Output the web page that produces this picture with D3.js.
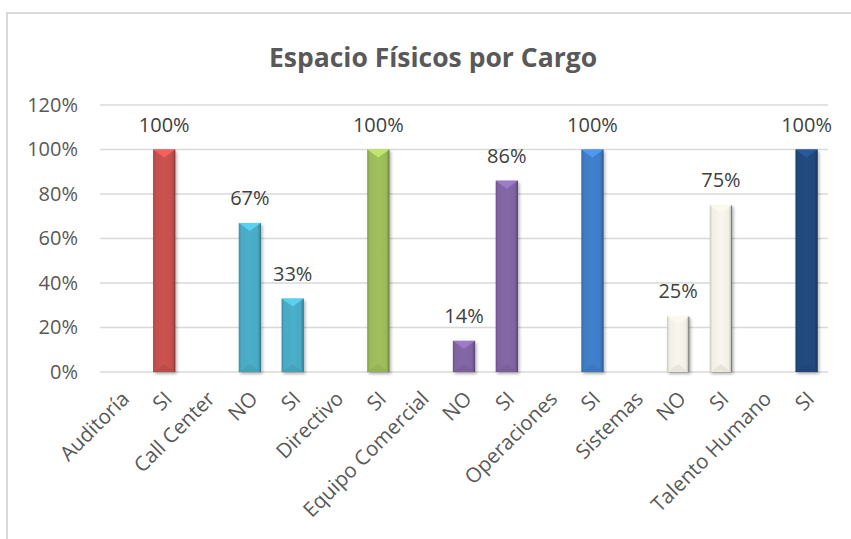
<!DOCTYPE html>
<html>
<head>
<meta charset="utf-8">
<script src="https://cdn.jsdelivr.net/npm/d3@7"></script>
<style>
  html, body { margin: 0; padding: 0; background: #fff; }
  svg { display: block; font-family: "Open Sans", "Noto Sans", sans-serif; }
</style>
</head>
<body>
<svg id="chart" width="851" height="539"></svg>
<script>
// Share of answers about physical workspace, per job group
const groups  = ["Auditoría", "Call Center", "Directivo", "Equipo Comercial", "Operaciones", "Sistemas", "Talento Humano"];
const answers = [["SI"], ["NO", "SI"], ["SI"], ["NO", "SI"], ["SI"], ["NO", "SI"], ["SI"]];
const shares  = [[1.00], [0.67, 0.33], [1.00], [0.14, 0.86], [1.00], [0.25, 0.75], [1.00]];
const groupColors = ["#c4504d", "#49aac4", "#9bbb59", "#8064a2", "#3f7cc6", "#f2f0e6", "#22497d"];
const yTicks = [0, 0.2, 0.4, 0.6, 0.8, 1.0, 1.2];

// Flatten into one row of axis slots: the group name, then its answers
const slots = [];
groups.forEach((g, gi) => {
  slots.push({ label: g, value: null, group: gi });
  answers[gi].forEach((a, ai) => slots.push({ label: a, value: shares[gi][ai], group: gi }));
});

const svg = d3.select("#chart");
const W = 851, H = 539;
const plot = { left: 100, right: 828, top: 105, bottom: 372 };

// Chart frame
svg.append("rect")
  .attr("x", 7).attr("y", 13).attr("width", W + 20).attr("height", H + 20)
  .attr("fill", "#fff").attr("stroke", "#d9d9d9").attr("stroke-width", 2);

// Title
svg.append("text")
  .attr("x", 433).attr("y", 67)
  .attr("text-anchor", "middle")
  .attr("font-size", 26.5).attr("font-weight", 700)
  .attr("fill", "#595959")
  .text("Espacio Físicos por Cargo");

const x = d3.scaleBand().domain(d3.range(slots.length)).range([plot.left, plot.right]);
const y = d3.scaleLinear().domain([0, 1.2]).range([plot.bottom, plot.top]);

// Gridlines
svg.append("g").selectAll("line").data(yTicks).join("line")
  .attr("x1", plot.left).attr("x2", plot.right)
  .attr("y1", d => y(d)).attr("y2", d => y(d))
  .attr("stroke", "#d9d9d9").attr("stroke-width", 1.5);

// Y axis labels
const yAxis = svg.append("g")
  .attr("transform", `translate(${plot.left},0)`)
  .call(d3.axisLeft(y).tickValues(yTicks).tickFormat(d3.format(".0%")).tickSize(0).tickPadding(22));
yAxis.select(".domain").remove();
yAxis.selectAll("text").attr("font-size", 20).attr("fill", "#595959").attr("font-family", "Open Sans");

// X axis labels, rotated
const xAxis = svg.append("g")
  .attr("transform", `translate(0,${plot.bottom})`)
  .call(d3.axisBottom(x).tickFormat(i => slots[i].label).tickSize(0));
xAxis.select(".domain").remove();
xAxis.selectAll("text")
  .attr("x", 0).attr("y", 0).attr("dy", "0.35em")
  .attr("text-anchor", "end")
  .attr("transform", "translate(4,23) rotate(-45)")
  .attr("font-size", 20.5).attr("fill", "#595959").attr("font-family", "Open Sans");

// Gradients and shadow for the bevelled bars
const defs = svg.append("defs");
const shadow = defs.append("filter").attr("id", "barShadow")
  .attr("x", "-30%").attr("y", "-10%").attr("width", "170%").attr("height", "130%");
shadow.append("feDropShadow").attr("dx", 1.5).attr("dy", 2).attr("stdDeviation", 1.6)
  .attr("flood-color", "#000").attr("flood-opacity", 0.3);

groupColors.forEach((c, i) => {
  const base = d3.color(c);
  const g = defs.append("linearGradient").attr("id", "bar" + i)
    .attr("x1", 0).attr("x2", 1).attr("y1", 0).attr("y2", 0);
  const stops = [
    [0, base.darker(0.5)], [0.12, base], [0.5, base.brighter(0.08)],
    [0.85, base], [0.94, base.darker(0.5)], [1, base.darker(i === 5 ? 3.5 : 1.2)]
  ];
  stops.forEach(([o, col]) => g.append("stop").attr("offset", o).attr("stop-color", col));
});

const bw = x.bandwidth() * 0.52;
const bars = svg.append("g").selectAll("g")
  .data(slots.map((s, i) => ({ ...s, i })).filter(s => s.value !== null))
  .join("g");

bars.append("rect")
  .attr("x", d => x(d.i) + x.bandwidth() / 2 - bw / 2)
  .attr("y", d => y(d.value))
  .attr("width", bw)
  .attr("height", d => y(0) - y(d.value))
  .attr("fill", d => `url(#bar${d.group})`)
  .attr("filter", "url(#barShadow)");

// Top bevel facet
bars.append("path")
  .attr("d", d => {
    const x0 = x(d.i) + x.bandwidth() / 2 - bw / 2, t = y(d.value);
    return `M${x0},${t}L${x0 + bw},${t}L${x0 + bw / 2},${t + bw * 0.36}Z`;
  })
  .attr("fill", d => d3.color(groupColors[d.group]).brighter(d.group === 5 ? 0.1 : 0.6))
  .attr("opacity", 0.95);

// Bottom bevel facet
bars.append("path")
  .attr("d", d => {
    const x0 = x(d.i) + x.bandwidth() / 2 - bw / 2, b = y(0);
    return `M${x0 + 1},${b}L${x0 + bw - 1},${b}L${x0 + bw / 2},${b - bw * 0.36}Z`;
  })
  .attr("fill", d => d3.color(groupColors[d.group]).darker(0.25))
  .attr("opacity", 0.6);

// Value labels
svg.append("g").selectAll("text")
  .data(slots.map((s, i) => ({ ...s, i })).filter(s => s.value !== null))
  .join("text")
  .attr("x", d => x(d.i) + x.bandwidth() / 2)
  .attr("y", d => y(d.value) - 18)
  .attr("text-anchor", "middle")
  .attr("font-size", 20).attr("fill", "#404040")
  .text(d => d3.format(".0%")(d.value));
</script>
</body>
</html>
